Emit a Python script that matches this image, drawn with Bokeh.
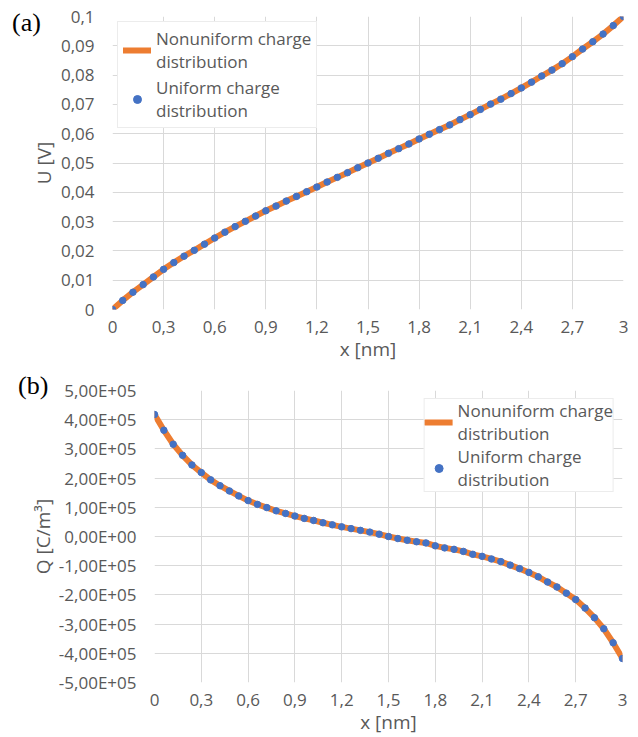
from bokeh.plotting import figure
from bokeh.models import FixedTicker, Div
from bokeh.embed import file_html
from bokeh.resources import INLINE

# ---------------- data ----------------
x_points = [0.00, 0.06, 0.12, 0.18, 0.24, 0.30, 0.36, 0.42, 0.48, 0.54,
            0.60, 0.66, 0.72, 0.78, 0.84, 0.90, 0.96, 1.02, 1.08, 1.14,
            1.20, 1.26, 1.32, 1.38, 1.44, 1.50, 1.56, 1.62, 1.68, 1.74,
            1.80, 1.86, 1.92, 1.98, 2.04, 2.10, 2.16, 2.22, 2.28, 2.34,
            2.40, 2.46, 2.52, 2.58, 2.64, 2.70, 2.76, 2.82, 2.88, 2.94, 3.00]

# (a) potential U [V]
u_nonuniform = [0.0000, 0.0031, 0.0059, 0.0085, 0.0111, 0.0137, 0.0160, 0.0182, 0.0202, 0.0223,
                0.0244, 0.0264, 0.0283, 0.0301, 0.0319, 0.0337, 0.0353, 0.0370, 0.0386, 0.0402,
                0.0418, 0.0435, 0.0451, 0.0467, 0.0484, 0.0500, 0.0516, 0.0533, 0.0549, 0.0565,
                0.0582, 0.0598, 0.0614, 0.0630, 0.0648, 0.0665, 0.0683, 0.0701, 0.0718, 0.0737,
                0.0756, 0.0776, 0.0797, 0.0817, 0.0839, 0.0863, 0.0889, 0.0914, 0.0940, 0.0969, 0.1000]
u_uniform = [0.0000, 0.0031, 0.0059, 0.0085, 0.0111, 0.0137, 0.0160, 0.0182, 0.0202, 0.0223,
             0.0244, 0.0264, 0.0283, 0.0301, 0.0319, 0.0337, 0.0353, 0.0370, 0.0386, 0.0402,
             0.0418, 0.0435, 0.0451, 0.0467, 0.0484, 0.0500, 0.0516, 0.0533, 0.0549, 0.0565,
             0.0582, 0.0598, 0.0614, 0.0630, 0.0648, 0.0665, 0.0683, 0.0701, 0.0718, 0.0737,
             0.0756, 0.0776, 0.0797, 0.0817, 0.0839, 0.0863, 0.0889, 0.0914, 0.0940, 0.0969, 0.1000]

# (b) charge density Q [C/m^3]
q_nonuniform = [4.18e5, 3.64e5, 3.16e5, 2.78e5, 2.45e5, 2.19e5, 1.94e5, 1.74e5, 1.56e5, 1.39e5,
                1.23e5, 1.10e5, 0.99e5, 0.88e5, 0.79e5, 0.70e5, 0.62e5, 0.55e5, 0.47e5, 0.40e5,
                0.33e5, 0.27e5, 0.21e5, 0.15e5, 0.08e5, 0.00e5, -0.07e5, -0.13e5, -0.18e5, -0.22e5,
                -0.32e5, -0.39e5, -0.44e5, -0.51e5, -0.61e5, -0.68e5, -0.77e5, -0.86e5, -0.98e5, -1.10e5,
                -1.23e5, -1.38e5, -1.56e5, -1.73e5, -1.94e5, -2.16e5, -2.45e5, -2.78e5, -3.16e5, -3.64e5, -4.18e5]
q_uniform = [4.18e5, 3.64e5, 3.16e5, 2.78e5, 2.45e5, 2.19e5, 1.94e5, 1.74e5, 1.56e5, 1.39e5,
             1.23e5, 1.10e5, 0.99e5, 0.88e5, 0.79e5, 0.70e5, 0.62e5, 0.55e5, 0.47e5, 0.40e5,
             0.33e5, 0.27e5, 0.21e5, 0.15e5, 0.08e5, 0.00e5, -0.07e5, -0.13e5, -0.18e5, -0.22e5,
             -0.32e5, -0.39e5, -0.44e5, -0.51e5, -0.61e5, -0.68e5, -0.77e5, -0.86e5, -0.98e5, -1.10e5,
             -1.23e5, -1.38e5, -1.56e5, -1.73e5, -1.94e5, -2.16e5, -2.45e5, -2.78e5, -3.16e5, -3.64e5, -4.18e5]

x_ticks = [0, 0.3, 0.6, 0.9, 1.2, 1.5, 1.8, 2.1, 2.4, 2.7, 3]
x_tick_labels = ["0", "0,3", "0,6", "0,9", "1,2", "1,5", "1,8", "2,1", "2,4", "2,7", "3"]
u_ticks = [0, 0.01, 0.02, 0.03, 0.04, 0.05, 0.06, 0.07, 0.08, 0.09, 0.1]
u_tick_labels = ["0", "0,01", "0,02", "0,03", "0,04", "0,05", "0,06", "0,07", "0,08", "0,09", "0,1"]
q_ticks = [-5e5, -4e5, -3e5, -2e5, -1e5, 0, 1e5, 2e5, 3e5, 4e5, 5e5]
q_tick_labels = ["-5,00E+05", "-4,00E+05", "-3,00E+05", "-2,00E+05", "-1,00E+05", "0,00E+00",
                 "1,00E+05", "2,00E+05", "3,00E+05", "4,00E+05", "5,00E+05"]

series_names = ["Nonuniform charge\ndistribution", "Uniform charge\ndistribution"]
panel_names = ["(a)", "(b)"]

ORANGE = "#ED7D31"
BLUE = "#4472C4"
GRID = "#D9D9D9"
TXT = "#595959"
FONT = "Open Sans"


def style(p, yticks, ylabels, ytitle, ytitle_standoff):
    p.outline_line_color = None
    p.background_fill_color = "white"
    p.border_fill_color = "white"
    for g in (p.xgrid, p.ygrid):
        g.grid_line_color = GRID
        g.grid_line_width = 1
    p.xaxis.ticker = FixedTicker(ticks=x_ticks)
    p.xaxis.major_label_overrides = {t: l for t, l in zip(x_ticks, x_tick_labels)}
    p.yaxis.ticker = FixedTicker(ticks=yticks)
    p.yaxis.major_label_overrides = {t: l for t, l in zip(yticks, ylabels)}
    p.xgrid.ticker = FixedTicker(ticks=x_ticks)
    p.ygrid.ticker = FixedTicker(ticks=yticks)
    for ax in (p.xaxis, p.yaxis):
        ax.axis_line_color = None
        ax.major_tick_line_color = None
        ax.minor_tick_line_color = None
        ax.major_tick_out = 0
        ax.major_tick_in = 0
        ax.minor_tick_out = 0
        ax.major_label_text_font = FONT
        ax.major_label_text_font_size = "17px"
        ax.major_label_text_color = TXT
        ax.axis_label_text_font = FONT
        ax.axis_label_text_font_size = "19px"
        ax.axis_label_text_font_style = "normal"
        ax.axis_label_text_color = TXT
    p.xaxis.axis_label = "x [nm]"
    p.yaxis.axis_label = ytitle
    p.xaxis.major_label_standoff = 11
    p.xaxis.axis_label_standoff = 0
    p.yaxis.major_label_standoff = 18
    p.yaxis.axis_label_standoff = ytitle_standoff


def style_legend(leg, loc, margin, pad, spacing):
    leg.location = loc
    leg.margin = margin
    leg.padding = pad
    leg.spacing = spacing
    leg.label_text_font = FONT
    leg.label_text_font_size = "17px"
    leg.label_text_color = TXT
    leg.label_text_line_height = 1.2
    leg.glyph_width = 28
    leg.label_standoff = 5
    leg.border_line_color = GRID
    leg.border_line_width = 1
    leg.background_fill_alpha = 1
    leg.background_fill_color = "white"


def panel_div(text, left, top):
    return Div(text=text, styles={
        "position": "absolute", "left": f"{left}px", "top": f"{top}px",
        "font-family": "'Liberation Serif', serif", "font-size": "26px",
        "line-height": "1", "color": "black", "z-index": "10",
        "margin": "0", "padding": "0"})


# ---------------- (a) ----------------
p1 = figure(frame_width=511, frame_height=293, x_range=(0, 3), y_range=(0, 0.1),
            output_backend="svg", toolbar_location=None,
            min_border_left=112, min_border_right=15, min_border_top=16, min_border_bottom=55)
style(p1, u_ticks, u_tick_labels, "U [V]", 1)
p1.line(x_points, u_nonuniform, line_width=6, color=ORANGE, line_join="round",
        line_cap="round", legend_label=series_names[0])
p1.scatter(x_points, u_uniform, size=6.5, color=BLUE, legend_label=series_names[1])
style_legend(p1.legend[0], "top_left", 5, 5, 3)

# ---------------- (b) ----------------
p2 = figure(frame_width=468, frame_height=292, x_range=(0, 3), y_range=(-5e5, 5e5),
            output_backend="svg", toolbar_location=None,
            min_border_left=154, min_border_right=16, min_border_top=26, min_border_bottom=54)
style(p2, q_ticks, q_tick_labels, "Q [C/m³]", 0)
p2.line(x_points, q_nonuniform, line_width=6, color=ORANGE, line_join="round",
        line_cap="round", legend_label=series_names[0])
p2.scatter(x_points, q_uniform, size=6.5, color=BLUE, legend_label=series_names[1])
style_legend(p2.legend[0], "top_right", 8, 0, 0)

div_a = panel_div(panel_names[0], 12, 10)
div_b = panel_div(panel_names[1], 18, 373)

open("out.html", "w").write(file_html([p1, p2, div_a, div_b], INLINE))
